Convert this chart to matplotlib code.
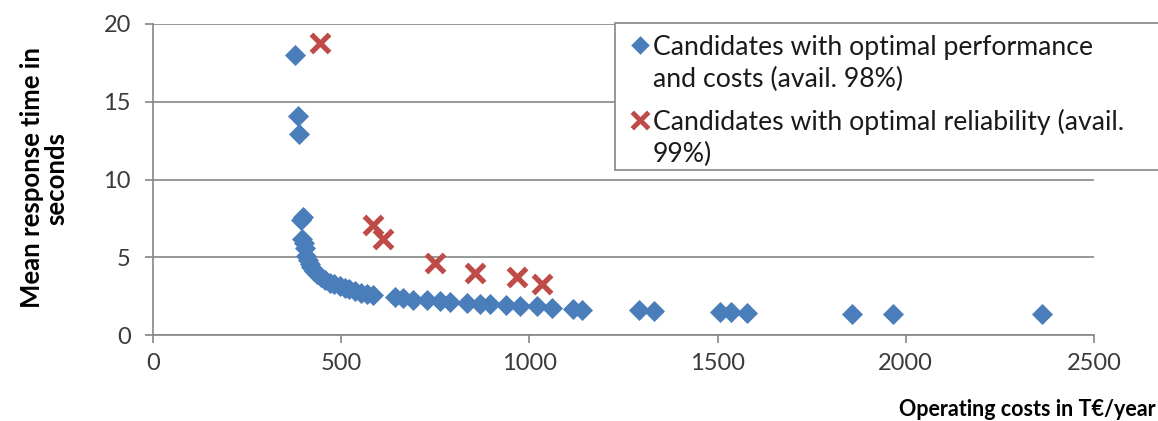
import matplotlib.pyplot as plt
from matplotlib.patches import Rectangle

# operating costs (T€/year) and mean response time (s)
perf_cost = [377, 386, 389, 398, 392, 395, 400, 404, 407, 412, 416, 421, 429, 437, 447,
             457, 469, 482, 496, 509, 522, 537, 553, 568, 584, 642, 664, 690, 727, 762,
             789, 833, 868, 895, 939, 974, 1019, 1059, 1115, 1141, 1292, 1330, 1507,
             1535, 1578, 1856, 1965, 2362]
perf_time = [18.0, 14.1, 12.9, 7.6, 7.4, 6.2, 5.9, 5.6, 5.1, 4.8, 4.55, 4.35, 4.13, 3.9, 3.7,
             3.55, 3.37, 3.25, 3.15, 3.05, 2.93, 2.8, 2.7, 2.62, 2.55, 2.45, 2.36, 2.25, 2.22, 2.2,
             2.1, 2.05, 2.0, 1.98, 1.9, 1.88, 1.85, 1.75, 1.65, 1.63, 1.6, 1.55, 1.5,
             1.45, 1.4, 1.35, 1.35, 1.35]

rel_cost = [444, 584, 611, 749, 855, 967, 1033]
rel_time = [18.8, 7.1, 6.2, 4.6, 4.0, 3.7, 3.3]

xticks = [0, 500, 1000, 1500, 2000, 2500]
yticks = [0, 5, 10, 15, 20]

perf_label = ['Candidates with optimal performance', 'and costs (avail. 98%)']
rel_label = ['Candidates with optimal reliability (avail.', '99%)']

plt.rcParams['font.family'] = ['Lato', 'DejaVu Sans']

fig = plt.figure(figsize=(11.58, 4.21), dpi=100)
ax = fig.add_axes([153 / 1158, 86 / 421, 941 / 1158, 311 / 421])

grey = '#868686'
blue = '#4A7EBB'
red = '#BE4B48'
ax.scatter(perf_cost, perf_time, marker='D', s=115, color=blue, linewidths=0, zorder=3)
ax.scatter(rel_cost, rel_time, marker='x', s=170, color=red, linewidths=3.8, zorder=4)

ax.set_xlim(0, 2500)
ax.set_ylim(0, 20)
ax.set_xticks(xticks)
ax.set_yticks(yticks)
ax.grid(axis='y', color=grey, linewidth=1.2)
ax.set_axisbelow(True)
for s in ['top', 'right']:
    ax.spines[s].set_visible(False)
for s in ['left', 'bottom']:
    ax.spines[s].set_color(grey)
    ax.spines[s].set_linewidth(1.2)
ax.tick_params(axis='both', colors=grey, labelcolor='#3a3a3a', labelsize=17,
               length=6, width=1.2, direction='out')
ax.tick_params(axis='x', pad=7)
ax.tick_params(axis='y', pad=10)

# legend drawn by hand on a pixel overlay: the marker sits on the first line
# of each entry and the box runs off the right edge, as in the original
lg = fig.add_axes([0, 0, 1, 1])
lg.set_xlim(0, 1158)
lg.set_ylim(421, 0)
lg.axis('off')
lg.add_patch(Rectangle((615, 23), 600, 147, facecolor='white', edgecolor=grey, linewidth=1.2))
lg.scatter([640], [45], marker='D', s=90, color=blue, linewidths=0)
lg.scatter([640], [120], marker='x', s=140, color=red, linewidths=3.5)
for txt, y in zip(perf_label + rel_label, [55, 87, 130, 162]):
    lg.text(653, y, txt, fontsize=19.2, va='baseline', ha='left', color='#1a1a1a')

fig.text(0.998, 0.027, 'Operating costs in T€/year', ha='right', va='center',
         fontsize=15.5, fontweight='bold')
fig.text(44 / 1158, 1 - 178 / 421, 'Mean response time in\nseconds', ha='center', va='center',
         rotation=90, fontsize=18.5, fontweight='bold', linespacing=1.0)

fig.savefig('out.png', dpi=100)
